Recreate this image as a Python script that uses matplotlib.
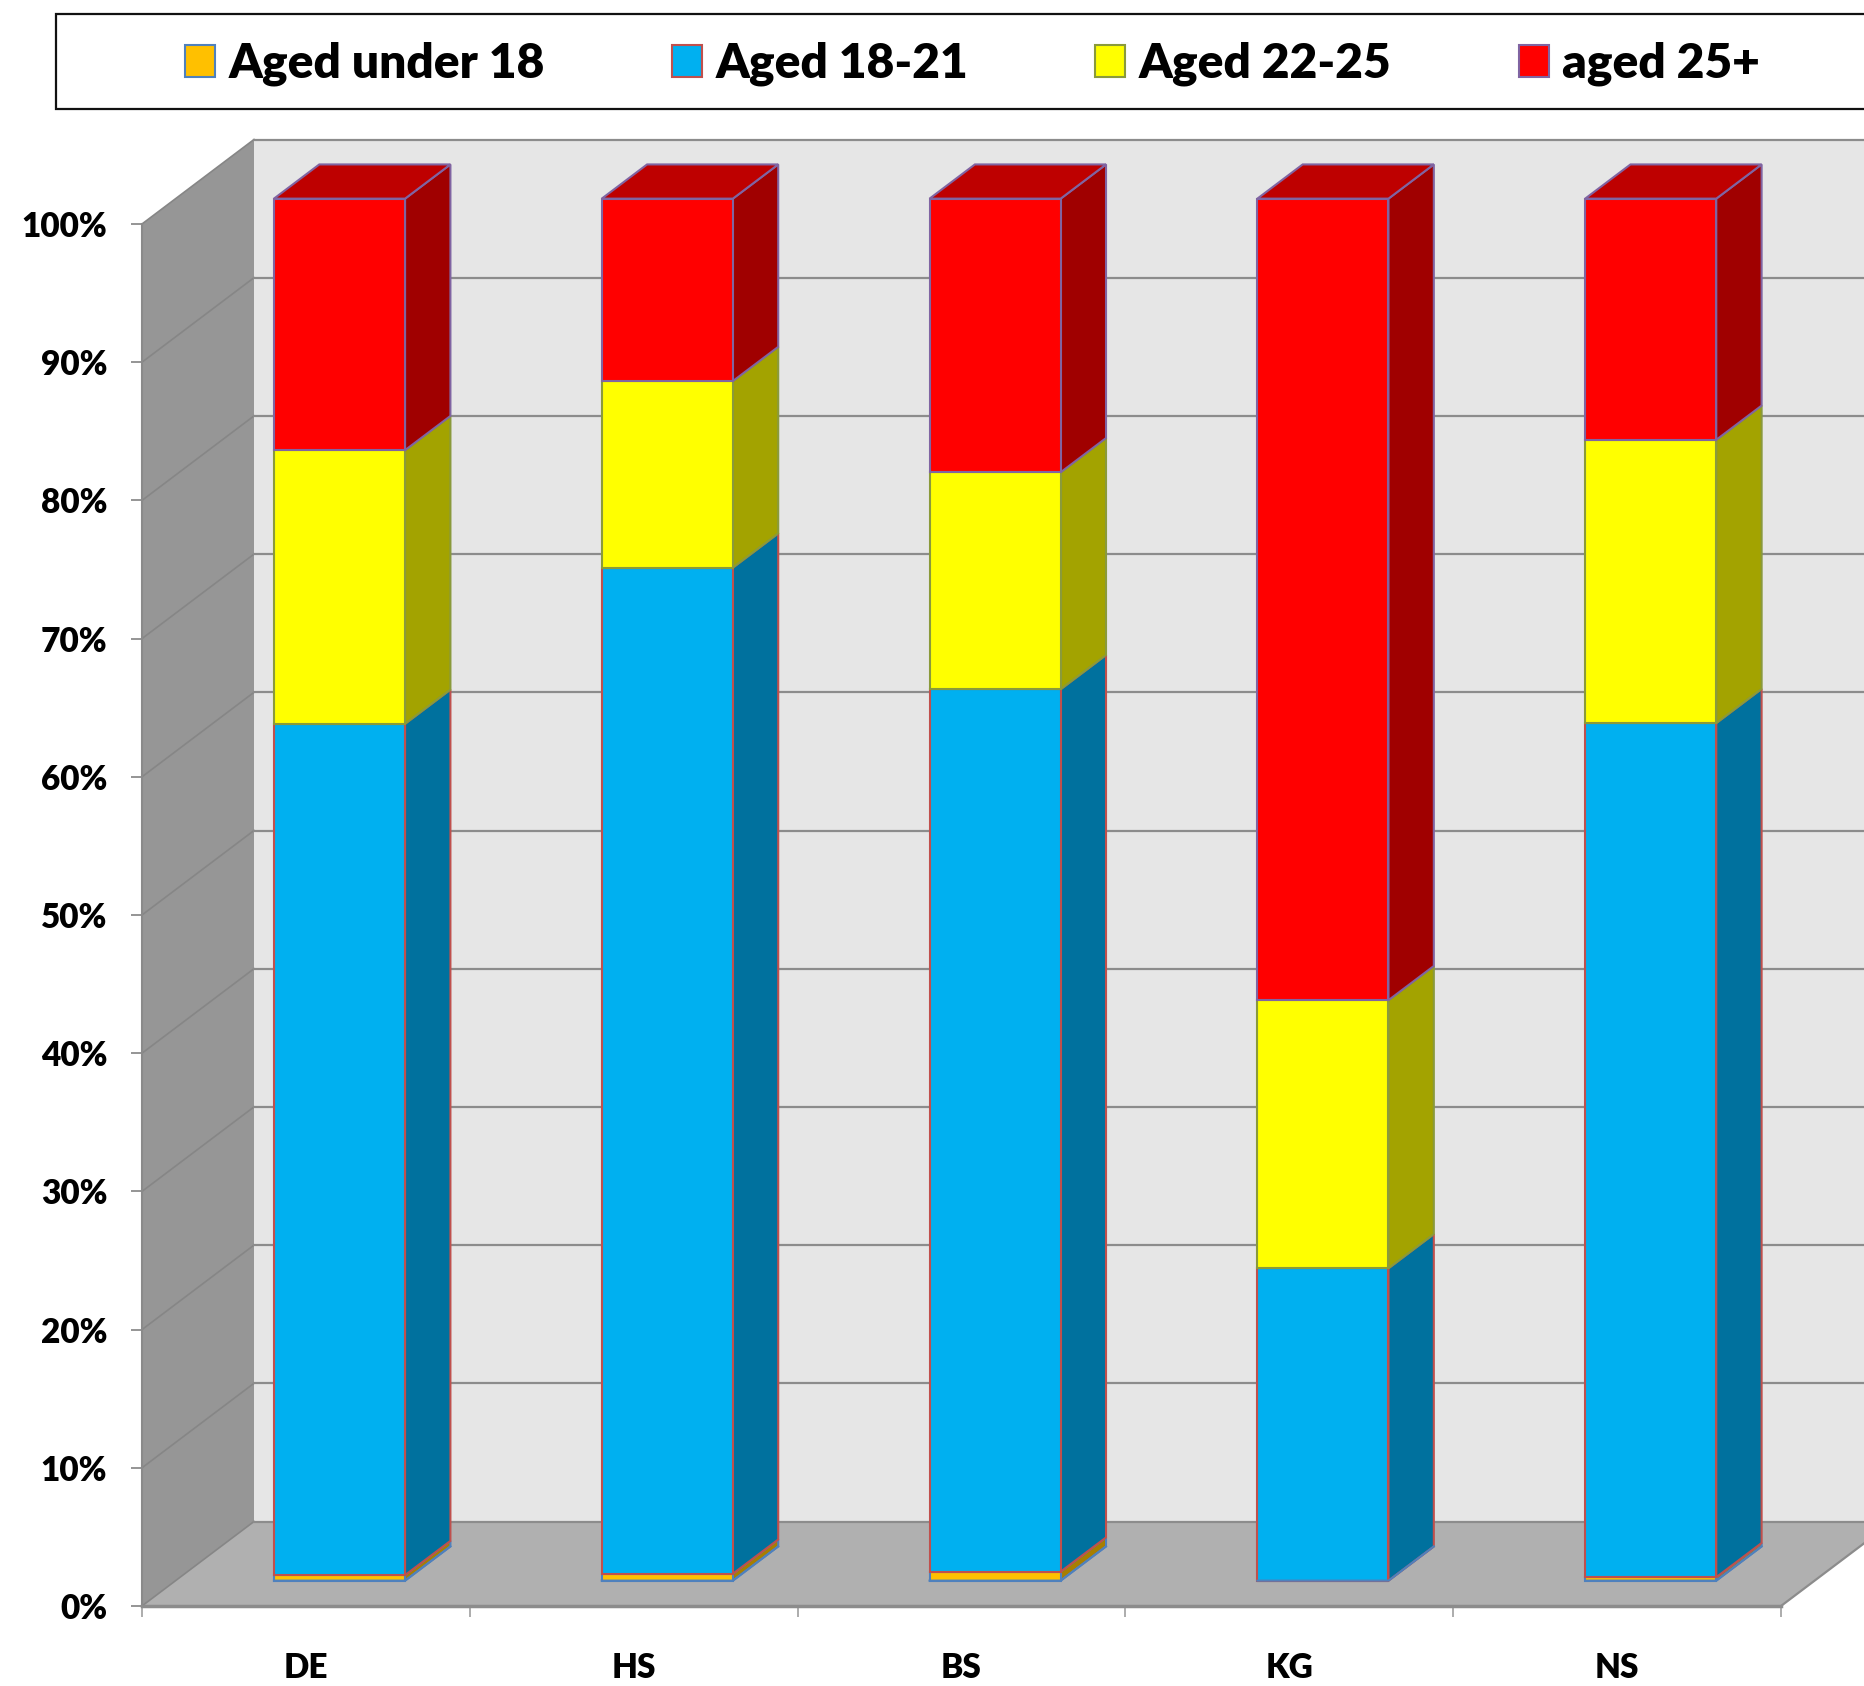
import numpy as np
import matplotlib
matplotlib.use('Agg')
import matplotlib.pyplot as plt
from matplotlib.patches import Polygon, Patch, Rectangle
from matplotlib.ticker import PercentFormatter

schools = ['DE', 'HS', 'BS', 'KG', 'NS']
series_names = ['Aged under 18', 'Aged 18-21', 'Aged 22-25', 'aged 25+']

# share of each group, percent
aged_under_18 = [0.4, 0.5, 0.65, 0.0, 0.25]
aged_18_21 = [61.6, 72.8, 63.85, 22.6, 61.8]
aged_22_25 = [19.8, 13.5, 15.7, 19.4, 20.5]
aged_25_plus = [18.2, 13.2, 19.8, 58.0, 17.45]

front_colors = ['#FFC000', '#00B0F0', '#FFFF00', '#FF0000']
side_colors = ['#A87E00', '#00719E', '#A3A300', '#A00000']
edge_colors = ['#4F81BD', '#C0504D', '#8A9A3B', '#8064A2']
top_color = '#BE0000'
grid_color = '#8C8C8C'

W, H = 1864, 1686
fig = plt.figure(figsize=(W / 100, H / 100), dpi=100)
plt.rcParams['font.family'] = ['Lato', 'DejaVu Sans']
ax = fig.add_axes([142 / W, 1 - 1606 / H, 1639 / W, 1382 / H])
ax.set_xlim(0, 5)
ax.set_ylim(0, 100)
ax.patch.set_visible(False)

# how far the full depth of the box shifts things, in data units
depth_x = 112 / (1639 / 5)
depth_y = 84.5 / 1382 * 100


def pt(x, y, d=0.0):
    return (x + d * depth_x, y + d * depth_y)


def face(points, color, edge='none', lw=0, z=1):
    ax.add_patch(Polygon(points, closed=True, facecolor=color, edgecolor=edge, linewidth=lw,
                         joinstyle='miter', clip_on=False, zorder=z))


# walls and floor
face([pt(0, 0, 1), pt(5, 0, 1), pt(5, 100, 1), pt(0, 100, 1)], '#E6E6E6')
face([pt(0, 0), pt(0, 0, 1), pt(0, 100, 1), pt(0, 100)], '#969696')
face([pt(0, 0), pt(5, 0), pt(5, 0, 1), pt(0, 0, 1)], '#B0B0B0')

for v in range(0, 101, 10):
    a, b, c = pt(0, v), pt(0, v, 1), pt(5, v, 1)
    ax.plot([a[0], b[0]], [a[1], b[1]], color='#868686', lw=1.2, clip_on=False, zorder=2)
    ax.plot([b[0], c[0]], [b[1], c[1]], color=grid_color, lw=1.6, clip_on=False, zorder=2)
a, b = pt(5, 0), pt(5, 0, 1)
ax.plot([a[0], b[0]], [a[1], b[1]], color=grid_color, lw=1.6, clip_on=False, zorder=2)

# stacked boxes
stack = np.array([aged_under_18, aged_18_21, aged_22_25, aged_25_plus])
d0, d1 = 0.3, 0.705
for i in range(len(schools)):
    x0, x1 = i + 0.3, i + 0.7
    bottom = 0
    for s in range(len(series_names)):
        top = bottom + stack[s][i]
        face([pt(x1, bottom, d0), pt(x1, bottom, d1), pt(x1, top, d1), pt(x1, top, d0)],
             side_colors[s], edge_colors[s], 1.5, 3 + s * 0.1)
        face([pt(x0, bottom, d0), pt(x1, bottom, d0), pt(x1, top, d0), pt(x0, top, d0)],
             front_colors[s], edge_colors[s], 1.5, 4 + s * 0.1)
        bottom = top
    face([pt(x0, bottom, d0), pt(x1, bottom, d0), pt(x1, bottom, d1), pt(x0, bottom, d1)],
         top_color, edge_colors[3], 1.5, 4)
    # the first series outline stays visible along the foot of the box
    foot = np.array([pt(x0, 0, d0), pt(x1, 0, d0), pt(x1, 0, d1)])
    ax.plot(foot[:, 0], foot[:, 1], color=edge_colors[0], lw=1.5, clip_on=False, zorder=5)

for side in ['top', 'right']:
    ax.spines[side].set_visible(False)
ax.spines['left'].set_color('#8A8A8A')
ax.spines['left'].set_linewidth(1.5)
ax.spines['bottom'].set_color(grid_color)
ax.spines['bottom'].set_linewidth(2.5)

ax.set_yticks(range(0, 101, 10))
ax.yaxis.set_major_formatter(PercentFormatter(100, decimals=0))
ax.tick_params(axis='y', length=8, width=1.3, color=grid_color, pad=17, labelsize=24)
ax.set_xticks(range(6))
ax.set_xticklabels([])
ax.tick_params(axis='x', which='major', length=8, width=1.3, color='#A6A6A6')
ax.set_xticks(np.arange(5) + 0.5, schools, minor=True)
ax.tick_params(axis='x', which='minor', length=0, pad=33, labelsize=24)
for lab in ax.get_yticklabels() + ax.get_xticklabels(minor=True):
    lab.set_fontweight('heavy')

# legend box runs off the right side of the picture
fig.add_artist(Rectangle((56 / W, 1 - 109 / H), (W + 40) / W, 95 / H, transform=fig.transFigure,
                         facecolor='white', edgecolor='#111111', linewidth=1.6))
handles = [Patch(facecolor=front_colors[s], edgecolor=edge_colors[s], linewidth=1.5) for s in range(4)]
fig.legend(handles, series_names, loc='center left', bbox_to_anchor=(185 / W, 1 - 64 / H), ncols=4,
           frameon=False, borderpad=0, borderaxespad=0, prop={'family': 'Lato', 'weight': 'heavy', 'size': 34.5},
           handlelength=0.63, handleheight=0.63, handletextpad=0.28, columnspacing=2.65)

fig.savefig('out.png', dpi=100)
